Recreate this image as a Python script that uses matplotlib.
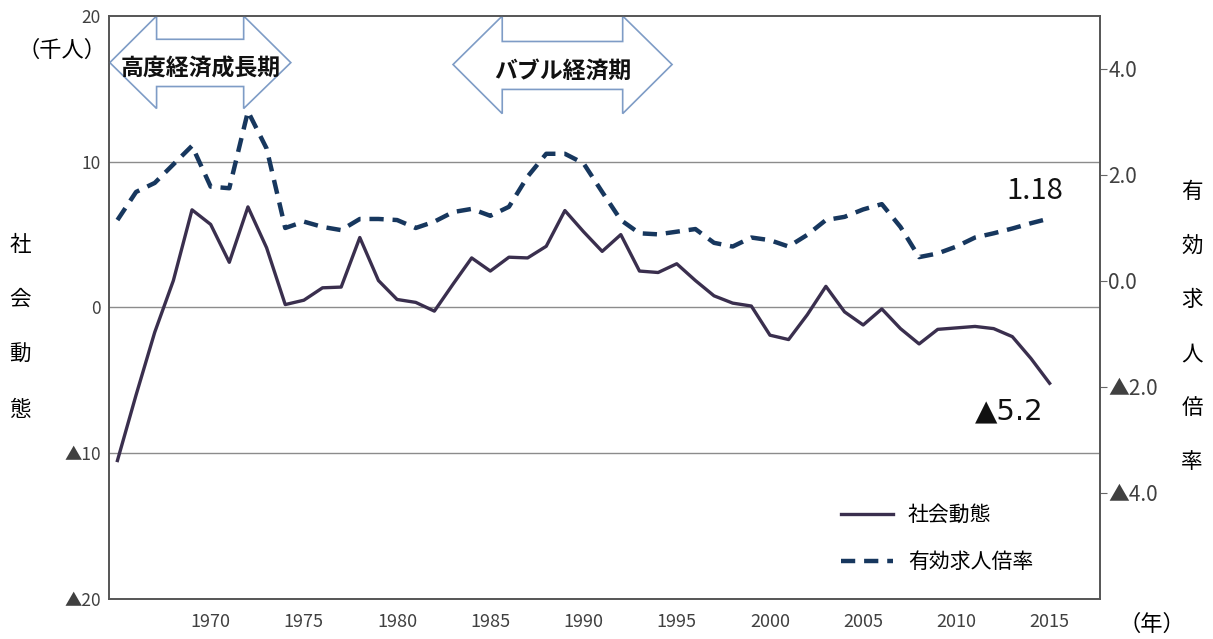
import matplotlib.pyplot as plt
from matplotlib.patches import Polygon

plt.rcParams['font.family'] = ['Noto Sans CJK JP', 'DejaVu Sans']

years = list(range(1965, 2016))

# 社会動態（千人）
social = [-10.5, -6.0, -1.7, 1.85, 6.7, 5.7, 3.1, 6.9, 4.1, 0.2,
          0.5, 1.35, 1.4, 4.8, 1.85, 0.55, 0.35, -0.25, 1.6, 3.4,
          2.5, 3.45, 3.4, 4.2, 6.65, 5.2, 3.85, 5.0, 2.5, 2.4,
          3.0, 1.85, 0.8, 0.3, 0.1, -1.9, -2.2, -0.5, 1.45, -0.3,
          -1.2, -0.1, -1.45, -2.5, -1.5, -1.4, -1.3, -1.45, -2.0, -3.5,
          -5.2]

# 有効求人倍率
ratio = [1.15, 1.68, 1.85, 2.2, 2.55, 1.78, 1.75, 3.2, 2.5, 1.0,
         1.12, 1.02, 0.96, 1.17, 1.17, 1.15, 1.0, 1.12, 1.3, 1.36,
         1.23, 1.4, 1.97, 2.4, 2.4, 2.22, 1.68, 1.15, 0.9, 0.88,
         0.93, 0.98, 0.72, 0.65, 0.82, 0.77, 0.65, 0.87, 1.15, 1.21,
         1.35, 1.45, 1.02, 0.45, 0.52, 0.65, 0.82, 0.9, 0.99, 1.09,
         1.18]

left_ticks = [-20, -10, 0, 10, 20]
left_labels = ['▲20', '▲10', '0', '10', '20']
right_ticks = [-4, -2, 0, 2, 4]
right_labels = ['▲4.0', '▲2.0', '0.0', '2.0', '4.0']
x_ticks = [1970, 1975, 1980, 1985, 1990, 1995, 2000, 2005, 2010, 2015]

fig = plt.figure(figsize=(12.13, 6.39), dpi=100)
ax = fig.add_axes([0.0899, 0.0626, 0.8169, 0.9124])
ax2 = ax.twinx()

ax.set_xlim(1964.55, 2017.7)
ax.set_ylim(-20, 20)
ax2.set_ylim(-6, 5)

# 目盛線
for v in [-10, 0, 10]:
    ax.axhline(v, color='#8c8c8c', lw=1, zorder=1)

l1, = ax.plot(years, social, color='#3a2f4e', lw=2.4, zorder=4, label='社会動態')
l2, = ax2.plot(years, ratio, color='#17375e', lw=3.2, ls=(0, (3.2, 2.0)), zorder=4,
               label='有効求人倍率')

ax.set_yticks(left_ticks)
ax.set_yticklabels(left_labels)
ax.tick_params(axis='y', length=0, labelsize=12.5, labelcolor='#404040', pad=6)
ax.set_xticks(x_ticks)
ax.tick_params(axis='x', length=0, labelsize=13, labelcolor='#404040', pad=10)
ax2.set_yticks(right_ticks)
ax2.set_yticklabels(right_labels)
ax2.tick_params(axis='y', length=5, labelsize=15, labelcolor='#404040', color='#666666',
                pad=1)

for a in (ax, ax2):
    for s in a.spines.values():
        s.set_color('#555555')
        s.set_linewidth(1.2)

# 期間の矢印
arrows = [
    (1964.59, 1967.1, 1971.77, 1974.3, 20, 18.4, 16.8, 15.16, 13.65, '高度経済成長期', 1969.45),
    (1983.0, 1985.64, 1992.1, 1994.75, 20, 18.25, 16.67, 14.96, 13.3, 'バブル経済期', 1988.9),
]
for xl, xb1, xb2, xr, yt, yst, yc, ysb, yb, label, xt in arrows:
    pts = [(xl, yc), (xb1, yt), (xb1, yst), (xb2, yst), (xb2, yt), (xr, yc),
           (xb2, yb), (xb2, ysb), (xb1, ysb), (xb1, yb)]
    ax.add_patch(Polygon(pts, closed=True, facecolor='white', edgecolor='#7e9cc6',
                         lw=1.2, zorder=5, clip_on=False))
    ax.text(xt, yc - 0.45, label, ha='center', va='center', fontsize=16.5,
            fontweight='bold', color='#111111', zorder=6)

ax2.text(2014.2, 1.7, '1.18', ha='center', va='center', fontsize=21, color='#111111')
ax.text(2012.85, -7.1, '▲5.2', ha='center', va='center', fontsize=21, color='#111111',
        family=['DejaVu Sans'])

# 軸ラベル
fig.text(62 / 1213, 1 - 50 / 639, '（千人）', ha='center', va='center', fontsize=16)
for i, ch in enumerate('社会動態'):
    fig.text(20 / 1213, 1 - (245 + 55 * i) / 639, ch, ha='center', va='center', fontsize=15.5)
for i, ch in enumerate('有効求人倍率'):
    fig.text(1192 / 1213, 1 - (192 + 54 * i) / 639, ch, ha='center', va='center', fontsize=15.5)
fig.text(1152 / 1213, 1 - 624 / 639, '（年）', ha='center', va='center', fontsize=16)

ax.legend([l1, l2], ['社会動態', '有効求人倍率'], loc='upper left',
          bbox_to_anchor=(0.72, 0.195), frameon=False, fontsize=15,
          handlelength=2.5, labelspacing=1.2, handletextpad=0.7)

fig.savefig('out.png', dpi=100)
